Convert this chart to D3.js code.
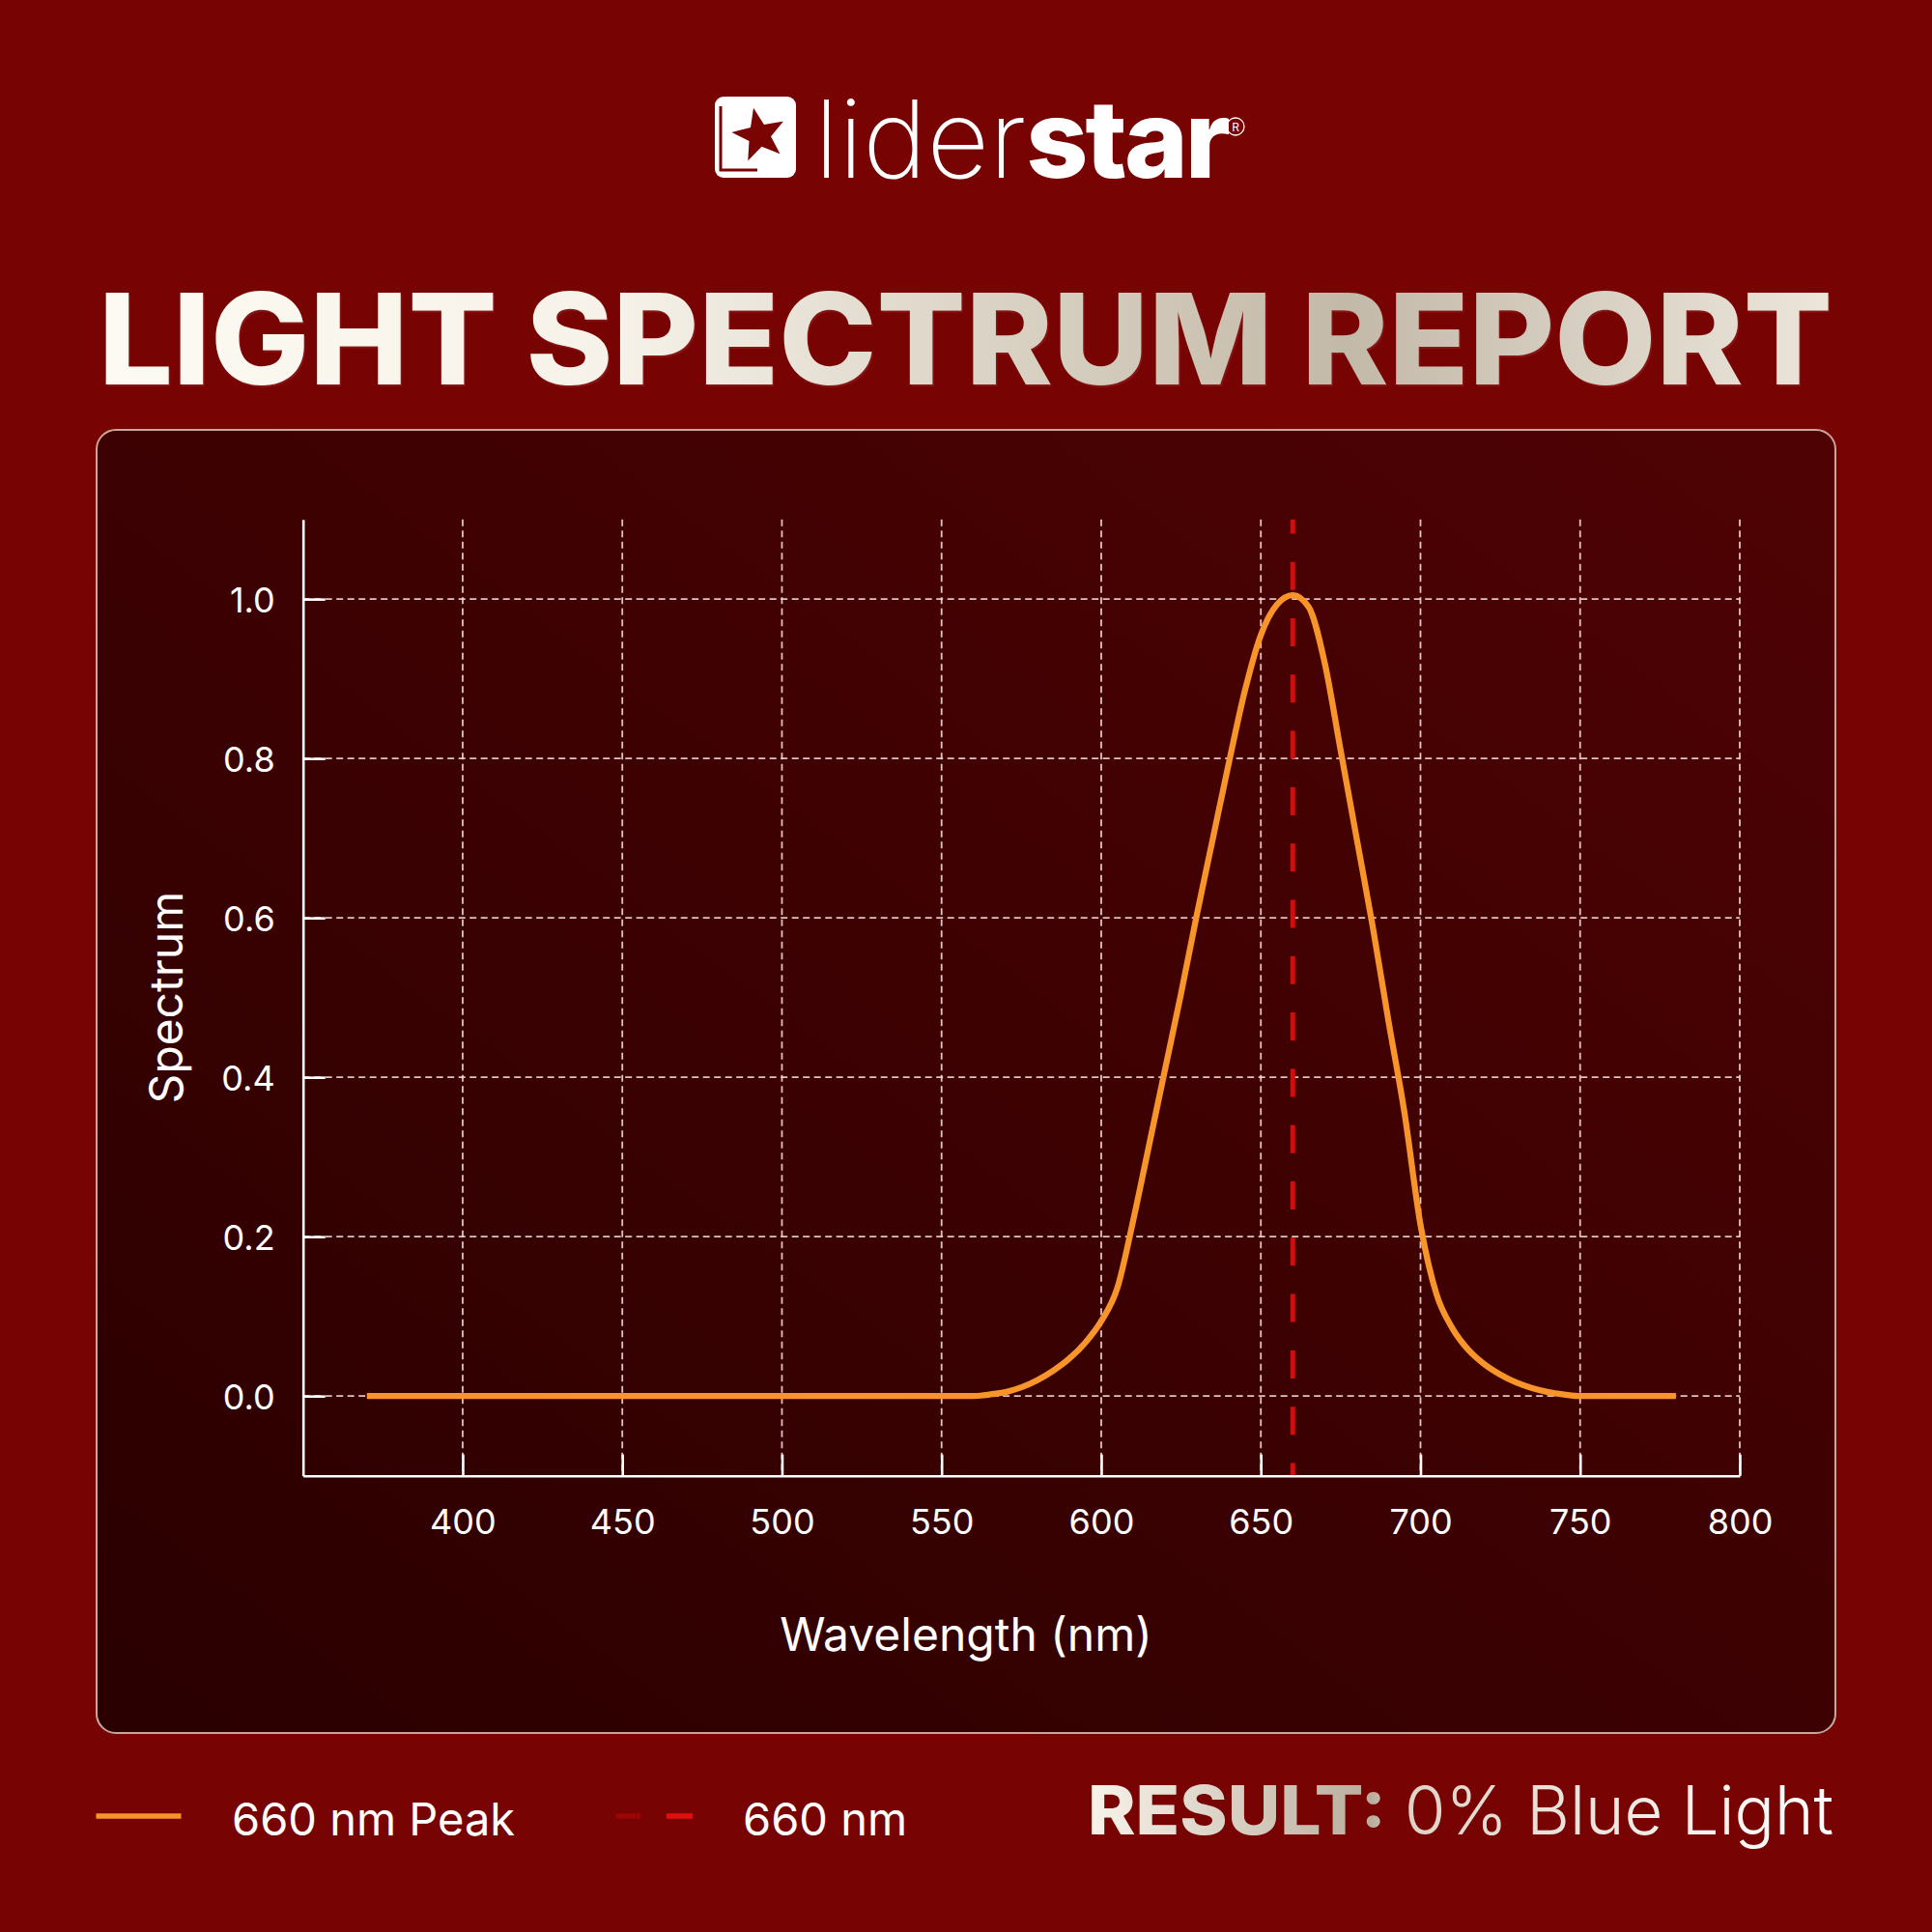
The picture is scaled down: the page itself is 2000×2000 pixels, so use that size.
<!DOCTYPE html>
<html>
<head>
<meta charset="utf-8">
<script src="https://cdn.jsdelivr.net/npm/d3@7/dist/d3.min.js"></script>
<style>
  html, body { margin: 0; padding: 0; background: #770303; }
  svg { display: block; }
</style>
</head>
<body>
<script>
// ---------------- DATA ----------------
const wavelengths = [370, 560, 565, 570, 575, 580, 585, 590, 595, 600, 605, 610, 615, 620, 625, 630, 635, 640, 645, 650, 655, 660, 665, 670, 675, 680, 685, 690, 695, 700, 705, 710, 715, 720, 725, 730, 735, 740, 745, 750, 780];
const spectrum    = [0, 0, 0.002, 0.005, 0.011, 0.02, 0.032, 0.047, 0.067, 0.094, 0.135, 0.22, 0.315, 0.41, 0.505, 0.605, 0.70, 0.795, 0.885, 0.955, 0.993, 1.005, 0.99, 0.92, 0.81, 0.70, 0.59, 0.47, 0.355, 0.215, 0.128, 0.085, 0.058, 0.04, 0.027, 0.017, 0.01, 0.005, 0.002, 0, 0];
const peakLine = 660;
const xTicks = [400, 450, 500, 550, 600, 650, 700, 750, 800];
const yTicks = [0.0, 0.2, 0.4, 0.6, 0.8, 1.0];
const xDomain = [350, 800];
const yDomain = [-0.1, 1.1];
const titleText = "LIGHT SPECTRUM REPORT";
const xLabel = "Wavelength (nm)";
const yLabel = "Spectrum";
const legendLabels = ["660 nm Peak", "660 nm"];
const resultBold = "RESULT:";
const resultText = "0% Blue Light";

// ---------------- SETUP ----------------
const W = 2000, H = 2000;
const svg = d3.select("body").append("svg").attr("width", W).attr("height", H);
const defs = svg.append("defs");

const pg = defs.append("linearGradient").attr("id", "panelGrad")
  .attr("x1", 0).attr("y1", 1).attr("x2", 1).attr("y2", 0);
pg.append("stop").attr("offset", 0).attr("stop-color", "#2a0000");
pg.append("stop").attr("offset", 1).attr("stop-color", "#4f0204");

const tg = defs.append("linearGradient").attr("id", "titleGrad")
  .attr("gradientUnits", "userSpaceOnUse").attr("x1", 102).attr("y1", 0).attr("x2", 1897).attr("y2", 0);
[[0, "#fdfaf3"], [0.3, "#f6f2e9"], [0.55, "#d6cebf"], [0.72, "#c3b9a9"], [1, "#ece6db"]]
  .forEach(([o, c]) => tg.append("stop").attr("offset", o).attr("stop-color", c));

const rg = defs.append("linearGradient").attr("id", "resultGrad")
  .attr("gradientUnits", "userSpaceOnUse").attr("x1", 1126).attr("y1", 0).attr("x2", 1898).attr("y2", 0);
[[0, "#f8f3ea"], [0.38, "#b9ae9d"], [0.42, "#ddd2c6"], [1, "#ffffff"]]
  .forEach(([o, c]) => rg.append("stop").attr("offset", o).attr("stop-color", c));

svg.append("rect").attr("width", W).attr("height", H).attr("fill", "#770303");

// ---------------- LOGO ----------------
const logo = svg.append("g");
logo.append("rect").attr("x", 740).attr("y", 100).attr("width", 84).attr("height", 84)
  .attr("rx", 9).attr("fill", "#ffffff");
logo.append("path")
  .attr("d", "M746,110 L746,176 L784,176")
  .attr("fill", "none").attr("stroke", "#7a0303").attr("stroke-width", 3);
(function () {
  const cx = 786, cy = 140, R = 31, r = 13, rot = -12 * Math.PI / 180;
  const pts = [];
  for (let i = 0; i < 10; i++) {
    const a = rot - Math.PI / 2 + i * Math.PI / 5;
    const rr = i % 2 === 0 ? R : r;
    pts.push([cx + rr * Math.cos(a), cy + rr * Math.sin(a)]);
  }
  logo.append("polygon").attr("points", pts.map(p => p.join(",")).join(" "))
    .attr("fill", "#7a0303").attr("stroke", "#ffffff").attr("stroke-width", 1.5);
})();
const logoText = logo.append("text").attr("x", 843).attr("y", 184)
  .attr("font-family", "Inter, 'Noto Sans', sans-serif").attr("font-size", 112).attr("fill", "#ffffff");
logoText.append("tspan").attr("font-weight", 200).text("lider");
logoText.append("tspan").attr("font-weight", 800).attr("letter-spacing", -3).text("star");
logo.append("circle").attr("cx", 1279).attr("cy", 131).attr("r", 9)
  .attr("fill", "none").attr("stroke", "#ffffff").attr("stroke-width", 1.3);
logo.append("text").attr("x", 1279).attr("y", 135.5).attr("text-anchor", "middle")
  .attr("font-family", "Inter, sans-serif").attr("font-size", 12).attr("fill", "#ffffff").text("R");

// ---------------- TITLE ----------------
svg.append("text").attr("x", 103.5).attr("y", 400)
  .attr("font-family", "Inter, 'Noto Sans', sans-serif").attr("font-weight", 800).attr("font-size", 131)
  .attr("textLength", 1795).attr("lengthAdjust", "spacingAndGlyphs")
  .attr("fill", "#a83838").attr("opacity", 0.35).text(titleText);
svg.append("text").attr("x", 102).attr("y", 398)
  .attr("font-family", "Inter, 'Noto Sans', sans-serif").attr("font-weight", 800).attr("font-size", 131)
  .attr("textLength", 1795).attr("lengthAdjust", "spacingAndGlyphs")
  .attr("fill", "url(#titleGrad)").text(titleText);

// ---------------- PANEL ----------------
svg.append("rect").attr("x", 100).attr("y", 445).attr("width", 1800).attr("height", 1349)
  .attr("rx", 20).attr("fill", "url(#panelGrad)")
  .attr("stroke", "#c9a699").attr("stroke-width", 2);

// ---------------- CHART ----------------
const x = d3.scaleLinear().domain(xDomain).range([313.7, 1801]);
const y = d3.scaleLinear().domain(yDomain).range([1527.7, 537.7]);
const plot = svg.append("g");
const gridColor = "#f3d9d6";

// grid
plot.append("g").selectAll("line.gx").data(xTicks).join("line")
  .attr("x1", d => x(d)).attr("x2", d => x(d))
  .attr("y1", y(yDomain[1])).attr("y2", y(yDomain[0]))
  .attr("stroke", gridColor).attr("stroke-width", 1.8).attr("stroke-dasharray", "7,4.5").attr("opacity", 0.9);
plot.append("g").selectAll("line.gy").data(yTicks).join("line")
  .attr("x1", x(xDomain[0])).attr("x2", x(xDomain[1]))
  .attr("y1", d => y(d)).attr("y2", d => y(d))
  .attr("stroke", gridColor).attr("stroke-width", 1.8).attr("stroke-dasharray", "7,4.5").attr("opacity", 0.9);

// 660 nm dashed reference line
plot.append("line")
  .attr("x1", x(peakLine)).attr("x2", x(peakLine))
  .attr("y1", y(yDomain[1])).attr("y2", y(yDomain[0]))
  .attr("stroke", "#cc1010").attr("stroke-width", 5)
  .attr("stroke-dasharray", "29,29.3").attr("stroke-dashoffset", 14.3);

// spectrum curve
const pts = wavelengths.map((w, i) => [w, spectrum[i]]);
const line = d3.line().x(d => x(d[0])).y(d => y(d[1])).curve(d3.curveMonotoneX);
plot.append("path").datum(pts).attr("d", line)
  .attr("fill", "none").attr("stroke", "#f7952a").attr("stroke-width", 6.3)
  .attr("stroke-linejoin", "round");

// axes
const fontAxis = "Inter, 'Noto Sans', sans-serif";
const xAxis = plot.append("g").attr("transform", `translate(0,${y(yDomain[0])})`)
  .call(d3.axisBottom(x).tickValues(xTicks).tickSize(-22).tickSizeOuter(0).tickFormat(d3.format("d")));
xAxis.select(".domain").attr("stroke", "#ffffff").attr("stroke-width", 2.6);
xAxis.selectAll(".tick line").attr("stroke", "#ffffff").attr("stroke-width", 2.6);
xAxis.selectAll(".tick text").attr("y", 60.5).attr("dy", 0)
  .attr("font-family", fontAxis).attr("font-size", 36).attr("fill", "#ffffff");

const yAxis = plot.append("g").attr("transform", `translate(${x(xDomain[0])},0)`)
  .call(d3.axisLeft(y).tickValues(yTicks).tickSize(-23).tickSizeOuter(0).tickFormat(d3.format(".1f")));
yAxis.select(".domain").attr("stroke", "#ffffff").attr("stroke-width", 2.6);
yAxis.selectAll(".tick line").attr("stroke", "#ffffff").attr("stroke-width", 2.6);
yAxis.selectAll(".tick text").attr("x", -29).attr("dy", "0.36em")
  .attr("font-family", fontAxis).attr("font-size", 36).attr("fill", "#ffffff");

// axis labels
svg.append("text").attr("x", 1000).attr("y", 1709).attr("text-anchor", "middle")
  .attr("font-family", fontAxis).attr("font-size", 48).attr("fill", "#ffffff").text(xLabel);
svg.append("text").attr("transform", `translate(189,${(y(yDomain[0]) + y(yDomain[1])) / 2}) rotate(-90)`)
  .attr("text-anchor", "middle")
  .attr("font-family", fontAxis).attr("font-size", 48).attr("fill", "#ffffff").text(yLabel);

// ---------------- LEGEND ----------------
const lg = svg.append("g");
lg.append("line").attr("x1", 99.5).attr("x2", 187.5).attr("y1", 1880).attr("y2", 1880)
  .attr("stroke", "#f7952a").attr("stroke-width", 5.5);
lg.append("text").attr("x", 240).attr("y", 1900)
  .attr("font-family", fontAxis).attr("font-size", 47).attr("fill", "#ffffff").text(legendLabels[0]);
lg.append("line").attr("x1", 638).attr("x2", 663).attr("y1", 1880).attr("y2", 1880)
  .attr("stroke", "#9a0606").attr("stroke-width", 5.5);
lg.append("line").attr("x1", 690).attr("x2", 717).attr("y1", 1880).attr("y2", 1880)
  .attr("stroke", "#e01010").attr("stroke-width", 5.5);
lg.append("text").attr("x", 769).attr("y", 1900)
  .attr("font-family", fontAxis).attr("font-size", 47).attr("fill", "#ffffff").text(legendLabels[1]);

// result
const res = svg.append("g");
res.append("text").attr("x", 1126).attr("y", 1899)
  .attr("font-family", fontAxis).attr("font-weight", 800).attr("font-size", 70)
  .attr("textLength", 309).attr("lengthAdjust", "spacingAndGlyphs")
  .attr("fill", "url(#resultGrad)").text(resultBold);
res.append("text").attr("x", 1454).attr("y", 1899)
  .attr("font-family", fontAxis).attr("font-weight", 300).attr("font-size", 70)
  .attr("textLength", 444).attr("lengthAdjust", "spacingAndGlyphs")
  .attr("fill", "url(#resultGrad)").text(resultText);
</script>
</body>
</html>
